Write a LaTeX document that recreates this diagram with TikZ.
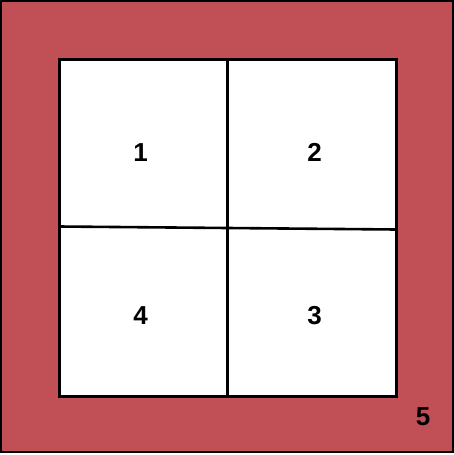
\documentclass[tikz,border=0pt]{standalone}
\usepackage{fontspec}
\setmainfont{Liberation Sans}
\usetikzlibrary{math}
\definecolor{myred}{RGB}{192, 80, 86}

\begin{document}
\begin{tikzpicture}[x=1pt,y=-1pt,
  zone/.style={font=\fontsize{26}{30}\selectfont\bfseries, inner sep=0pt}]
\tikzmath{
\Lo=59;
\Hi=396;
\Xm=227.5;
}
\useasboundingbox (0,0) rectangle (453,455);

% frame
\fill[myred, draw=black, line width=2] (1,1) rectangle (452.5,452);
\fill[white] (\Lo,\Lo) rectangle (\Hi,\Hi);

% dividing lines
\draw[line width=2.6] (\Xm,\Lo) -- (\Xm,\Hi);
\draw[line width=2.6] (\Lo,226.5) -- (\Hi,229.5);
\draw[line width=3] (\Lo,\Lo) rectangle (\Hi,\Hi);

\node[zone] (z1) at (140.5,152.5) {1};
\node[zone] (z2) at (314.5,152.5) {2};
\node[zone] (z3) at (314.5,316) {3};
\node[zone] (z4) at (140.5,316) {4};
\node[zone] (z5) at (423,417) {5};

\end{tikzpicture}
\end{document}
